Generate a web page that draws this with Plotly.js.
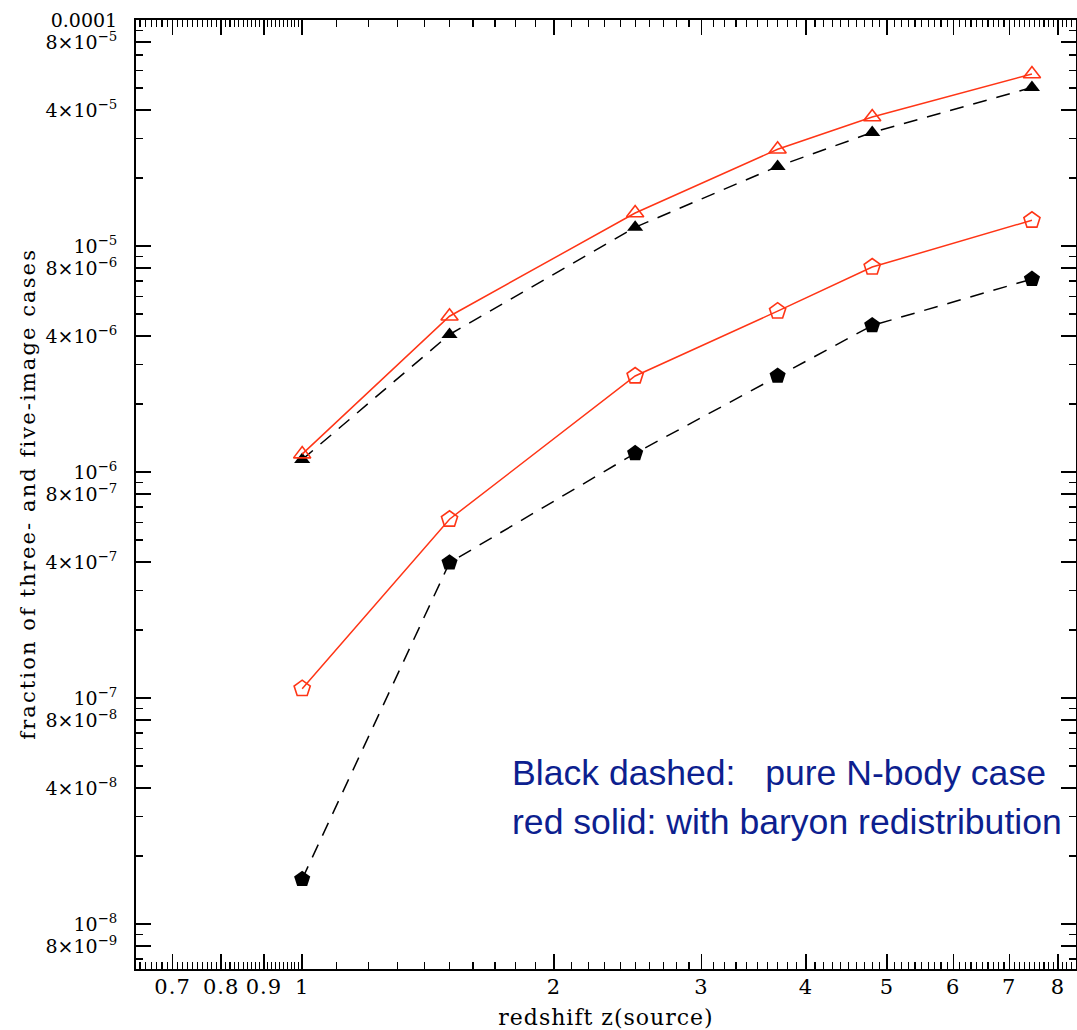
<!DOCTYPE html>
<html>
<head>
<meta charset="utf-8">
<script src="https://cdn.plot.ly/plotly-3.0.1.min.js"></script>
<style>
html,body{margin:0;padding:0;background:#fff;}
#chart{width:1077px;height:1030px;}
#chart g.annotation[data-index="0"] text{letter-spacing:2.1px;}
#chart .g-xtitle text{letter-spacing:1px;}
#chart g.xtick text{letter-spacing:1px;}
</style>
</head>
<body>
<div id="chart"></div>
<script>
// ---- data ----
const zSource = [1, 1.5, 2.5, 3.7, 4.8, 7.45];
const nbodyThree  = [1.135e-6, 4.06e-6, 1.21e-5, 2.25e-5, 3.18e-5, 5.03e-5];
const baryonThree = [1.20e-6, 4.89e-6, 1.40e-5, 2.68e-5, 3.72e-5, 5.77e-5];
const nbodyFive   = [1.58e-8, 3.97e-7, 1.21e-6, 2.66e-6, 4.45e-6, 7.14e-6];
const baryonFive  = [1.10e-7, 6.18e-7, 2.66e-6, 5.15e-6, 8.07e-6, 1.30e-5];

const xTickVals = [0.7, 0.8, 0.9, 1, 2, 3, 4, 5, 6, 7, 8];
const xTickText = ['0.7', '0.8', '0.9', '1', '2', '3', '4', '5', '6', '7', '8'];
const yTickVals = [1e-4, 8e-5, 4e-5, 1e-5, 8e-6, 4e-6, 1e-6, 8e-7, 4e-7, 1e-7, 8e-8, 4e-8, 1e-8, 8e-9];
const yTickText = ['0.0001', '8×10<sup>−5</sup>', '4×10<sup>−5</sup>', '10<sup>−5</sup>',
  '8×10<sup>−6</sup>', '4×10<sup>−6</sup>', '10<sup>−6</sup>', '8×10<sup>−7</sup>', '4×10<sup>−7</sup>',
  '10<sup>−7</sup>', '8×10<sup>−8</sup>', '4×10<sup>−8</sup>', '10<sup>−8</sup>', '8×10<sup>−9</sup>'];

const xTitle = 'redshift z(source)';
const yTitle = 'fraction of three- and five-image cases';
const note1 = 'Black dashed:\u00a0\u00a0\u00a0pure N-body case';
const note2 = 'red solid: with baryon redistribution';

// minor tick positions (axis decoration)
const xMinor = [];
for (let i = 64; i <= 99; i++) if (i % 10 !== 0) xMinor.push(i / 100);
for (let i = 11; i <= 84; i++) if (i % 10 !== 0) xMinor.push(i / 10);
const yMinor = [];
for (let e = -9; e <= -5; e++) for (const m of [2, 3, 5, 6, 7, 9]) yMinor.push(m * Math.pow(10, e));

const RED = '#ff3516';
const BLUE = '#0d1f8f';
const SERIF = 'DejaVu Serif, serif';
const SANS = 'Liberation Sans, Arial, sans-serif';

const traces = [
  {x: zSource, y: nbodyThree, mode: 'lines+markers',
   line: {color: '#000', width: 1.5, dash: '14px,10px'},
   marker: {symbol: 'triangle-up', size: 14, color: '#000'}},
  {x: zSource, y: nbodyFive, mode: 'lines+markers',
   line: {color: '#000', width: 1.5, dash: '14px,10px'},
   marker: {symbol: 'pentagon', size: 17, color: '#000'}},
  {x: zSource, y: baryonThree, mode: 'lines+markers',
   line: {color: RED, width: 1.5},
   marker: {symbol: 'triangle-up-open', size: 15, color: RED, line: {color: RED, width: 1.6}}},
  {x: zSource, y: baryonFive, mode: 'lines+markers',
   line: {color: RED, width: 1.5},
   marker: {symbol: 'pentagon-open', size: 17, color: RED, line: {color: RED, width: 1.6}}}
];

const W = 1077, H = 1030, L = 136, R = 1, T = 20, B = 61;
const pw = W - L - R, ph = H - T - B;
const px2paperX = p => (p - L) / pw;
const px2paperY = p => 1 - (p - T) / ph;

const layout = {
  width: W, height: H,
  margin: {l: L, r: R, t: T, b: B, pad: 0},
  paper_bgcolor: '#fff', plot_bgcolor: '#fff',
  showlegend: false,
  font: {family: SERIF, color: '#000', size: 20},
  xaxis: {
    type: 'log', range: [Math.log10(0.633), Math.log10(8.41)],
    tickmode: 'array', tickvals: xTickVals, ticktext: xTickText,
    ticks: 'inside', ticklen: 15, tickwidth: 1.5, tickcolor: '#000',
    showline: true, linecolor: '#000', linewidth: 2, mirror: 'allticks',
    showgrid: false, zeroline: false,
    ticklabelstandoff: -2,
    tickfont: {family: SERIF, size: 21, color: '#000'},
    minor: {tickmode: 'array', tickvals: xMinor, ticks: 'inside', ticklen: 7, tickwidth: 1.2, tickcolor: '#000', showgrid: false},
    title: {text: xTitle, font: {family: SERIF, size: 22, color: '#000'}, standoff: 11}
  },
  yaxis: {
    type: 'log', range: [-8.199, -4],
    tickmode: 'array', tickvals: yTickVals, ticktext: yTickText,
    ticks: 'inside', ticklen: 15, tickwidth: 1.5, tickcolor: '#000',
    showline: true, linecolor: '#000', linewidth: 2, mirror: 'allticks',
    showgrid: false, zeroline: false,
    ticklabelstandoff: 13,
    tickfont: {family: SERIF, size: 19, color: '#000'},
    minor: {tickmode: 'array', tickvals: yMinor, ticks: 'inside', ticklen: 7, tickwidth: 1.2, tickcolor: '#000', showgrid: false}
  },
  annotations: [
    {xref: 'paper', yref: 'paper', x: px2paperX(27), y: 0.5, text: yTitle, textangle: -90,
     showarrow: false, xanchor: 'center', yanchor: 'middle', font: {family: SERIF, size: 21, color: '#000'}},
    {xref: 'paper', yref: 'paper', x: px2paperX(510), y: px2paperY(773), text: note1,
     showarrow: false, xanchor: 'left', yanchor: 'middle', font: {family: SANS, size: 35.6, color: BLUE}},
    {xref: 'paper', yref: 'paper', x: px2paperX(510), y: px2paperY(822), text: note2,
     showarrow: false, xanchor: 'left', yanchor: 'middle', font: {family: SANS, size: 35.6, color: BLUE}}
  ]
};

Plotly.newPlot('chart', traces, layout, {staticPlot: true, displayModeBar: false});
</script>
</body>
</html>
